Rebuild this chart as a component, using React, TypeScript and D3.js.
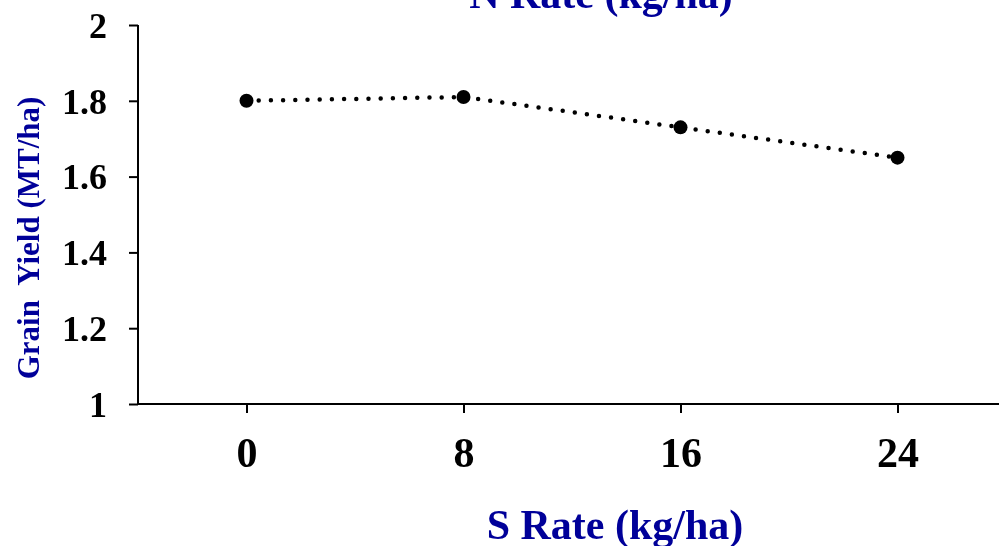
import React, { useEffect, useRef } from "react";
import * as d3 from "d3";

const sRates = [0, 8, 16, 24];
const grainYield = [1.8, 1.81, 1.73, 1.65];
const yTicks = [1, 1.2, 1.4, 1.6, 1.8, 2];

const App = () => {
  const svgRef = useRef<SVGSVGElement>(null);

  useEffect(() => {
    const w = 999;
    const h = 546;
    const font = "'Liberation Serif', 'Times New Roman', serif";
    const blue = "#000099";

    const svg = d3.select(svgRef.current)
      .attr("width", w)
      .attr("height", h)
      .style("display", "block");
    svg.selectAll("*").remove();

    const x = d3.scaleLinear().domain([-4, 28]).range([138, 1006]);
    const y = d3.scaleLinear().domain([1, 2]).range([404, 25]);

    // y axis
    const yAxis = svg.append("g")
      .attr("transform", `translate(${x(-4)},0)`)
      .call(d3.axisLeft(y).tickValues(yTicks).tickSize(9).tickPadding(22).tickFormat(d => String(d)));
    yAxis.select(".domain").attr("stroke", "#000").attr("stroke-width", 2).attr("d", `M0,${y(2)}V${y(1)}`);
    yAxis.selectAll(".tick line").attr("stroke", "#000").attr("stroke-width", 2);
    yAxis.selectAll(".tick text")
      .attr("font-family", font)
      .attr("font-weight", "bold")
      .attr("font-size", 36)
      .attr("fill", "#000")
      .attr("dy", "0.34em");

    // x axis
    const xAxis = svg.append("g")
      .attr("transform", `translate(0,${y(1)})`)
      .call(d3.axisBottom(x).tickValues(sRates).tickSize(9).tickPadding(34).tickFormat(d => String(d)));
    xAxis.select(".domain").attr("stroke", "#000").attr("stroke-width", 2).attr("d", `M${x(-4)},0H${w}`);
    xAxis.selectAll(".tick line").attr("stroke", "#000").attr("stroke-width", 2);
    xAxis.selectAll(".tick text")
      .attr("font-family", font)
      .attr("font-weight", "bold")
      .attr("font-size", 42)
      .attr("fill", "#000")
      .attr("dy", "0")
      .attr("y", 63);

    const data = sRates.map((s, i) => ({ s, v: grainYield[i] }));

    // dotted line
    const line = d3.line<{ s: number; v: number }>()
      .x(d => x(d.s))
      .y(d => y(d.v));
    svg.append("path")
      .datum(data)
      .attr("d", line)
      .attr("fill", "none")
      .attr("stroke", "#000")
      .attr("stroke-width", 4.5)
      .attr("stroke-linecap", "round")
      .attr("stroke-dasharray", "0 12.2");

    svg.selectAll("circle.pt")
      .data(data)
      .join("circle")
      .classed("pt", true)
      .attr("cx", d => x(d.s))
      .attr("cy", d => y(d.v))
      .attr("r", 7)
      .attr("fill", "#000");

    // titles
    svg.append("text")
      .attr("x", 601)
      .attr("y", 8)
      .attr("text-anchor", "middle")
      .attr("font-family", font)
      .attr("font-weight", "bold")
      .attr("font-size", 42)
      .attr("fill", blue)
      .text("N Rate (kg/ha)");

    svg.append("text")
      .attr("x", 615)
      .attr("y", 539)
      .attr("text-anchor", "middle")
      .attr("font-family", font)
      .attr("font-weight", "bold")
      .attr("font-size", 42)
      .attr("fill", blue)
      .text("S Rate (kg/ha)");

    svg.append("text")
      .attr("transform", `translate(39,238) rotate(-90)`)
      .attr("text-anchor", "middle")
      .attr("font-family", font)
      .attr("font-weight", "bold")
      .attr("font-size", 31)
      .attr("fill", blue)
      .attr("xml:space", "preserve")
      .style("white-space", "pre")
      .text("Grain  Yield (MT/ha)");
  }, []);

  return (
    <div style={{ position: "fixed", left: 0, top: 0 }}>
      <svg ref={svgRef} />
    </div>
  );
};

export default App;
